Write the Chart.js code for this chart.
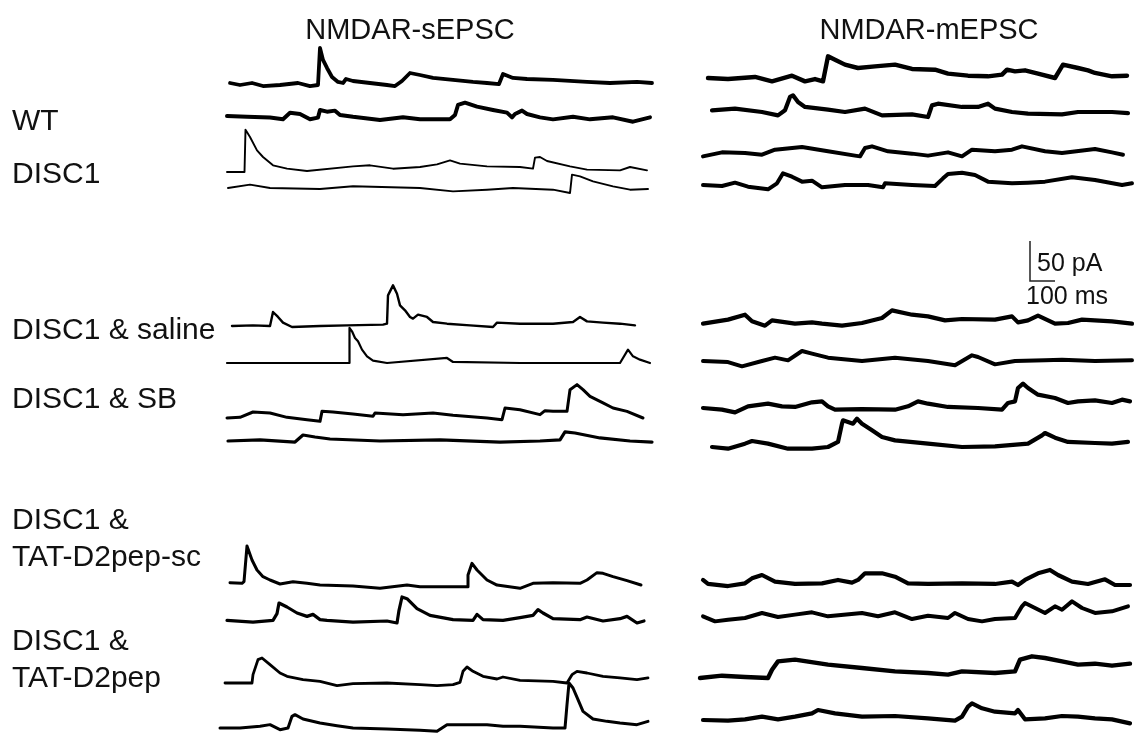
<!DOCTYPE html>
<html>
<head>
<meta charset="utf-8">
<script src="https://cdn.jsdelivr.net/npm/chart.js@4.4.0/dist/chart.umd.min.js"></script>
<style>
  html, body { margin: 0; padding: 0; background: #fff; }
  #wrap { position: relative; width: 1137px; height: 734px; overflow: hidden; }
  #traces { position: absolute; left: 0; top: 0; }
  .lbl { position: absolute; font-family: "Liberation Sans", Arial, sans-serif; font-size: 30px;
         color: #111; white-space: nowrap; line-height: 1; transform: translateY(-50%); }
  .ctr { transform: translate(-50%, -50%); }
  .titre { font-size: 29px; }
  .small { font-size: 25px; }
</style>
</head>
<body>
<div id="wrap">
  <canvas id="traces" width="1137" height="734"></canvas>
</div>
<script>
// titres, étiquettes et échelle
const columnTitles = ["NMDAR-sEPSC", "NMDAR-mEPSC"];
const groupLabels = [["WT"], ["DISC1"], ["DISC1 & saline"], ["DISC1 & SB"],
                     ["DISC1 &", "TAT-D2pep-sc"], ["DISC1 &", "TAT-D2pep"]];
const scaleBarPA = 50;
const scaleBarMS = 100;

// traces: [temps (ms), courant (pA, vers le haut)]
// NMDAR-sEPSC
const sWT1 = [[20,0],[60,-2.5],[108,0],[152,-3.8],[220,-2.5],[292,0],[340,-3.8],[372,-2.5],[380,43.8],[392,28.8],[408,18.8],[428,7.5],[452,1.3],[472,0],[484,5],[512,2.5],[580,0],[648,-2.5],[680,-3.8],[708,2.5],[740,12.5],[780,10],[832,6.3],[912,3.8],[992,1.3],[1048,0],[1096,-1.3],[1112,11.3],[1152,6.3],[1208,5],[1312,3.8],[1448,1.3],[1540,0],[1648,1.3],[1708,0]];
const sWT2 = [[8,0],[88,-1],[180,-2],[232,-4],[260,4],[300,2.5],[340,-4],[372,-2],[380,7.5],[408,5.4],[440,6.7],[460,1.3],[512,-1],[620,-5],[712,-1.7],[780,-4],[900,-4],[920,1.3],[932,13.8],[960,16.7],[1008,11.7],[1072,7.5],[1128,4.2],[1148,-1.7],[1160,2.5],[1188,6.7],[1208,2.5],[1260,-1.7],[1312,-4.2],[1392,-1],[1460,-4.2],[1552,-1.7],[1632,-7.1],[1700,-1.7]];
const sDISC1 = [[8,-1.3],[78,-1.3],[82,51.7],[100,42.5],[128,25.8],[152,17.5],[192,7.1],[248,2.9],[328,0],[512,5.8],[580,7.1],[672,2.9],[780,5],[848,8.3],[900,13.3],[940,9.2],[1048,5.8],[1180,5],[1232,2.9],[1240,16.7],[1260,17.5],[1288,12.5],[1380,5.8],[1448,1.7],[1580,0.8],[1620,5],[1688,0.8]];
const sDISC2 = [[12,0],[100,4.2],[180,0],[380,-1.3],[512,2.1],[780,0],[912,-4.2],[1048,-2.1],[1152,0],[1312,-2.1],[1380,-6.3],[1388,16.7],[1420,14.6],[1472,8.3],[1552,2.1],[1620,-2.1],[1692,-1.3]];
const sSal1 = [[28,0],[112,0.8],[180,0],[192,17.5],[212,11.3],[232,4.2],[268,-1.3],[380,0],[488,0.8],[632,1.7],[648,2.9],[652,38.3],[672,50.8],[688,40.4],[700,25.8],[720,19.6],[740,11.3],[752,9.2],[772,14.2],[808,11.3],[832,5],[888,2.9],[980,0.8],[1072,-1.3],[1088,4.2],[1180,2.9],[1312,2.9],[1392,5],[1420,11.3],[1448,5.8],[1512,4.2],[1580,2.9],[1640,0.8]];
const sSal2 = [[8,0],[300,0],[496,0],[498,43.8],[508,39.6],[520,31.3],[532,27.1],[548,16.7],[568,8.3],[592,2.9],[648,0],[888,6.3],[912,1.3],[1180,0],[1580,0],[1612,16.7],[1632,8.3],[1660,4.2],[1700,0]];
const sSB1 = [[8,0],[60,0.8],[112,7.5],[180,6.3],[248,0.8],[328,-2.1],[380,-4.2],[388,8.3],[432,7.5],[512,5],[592,2.1],[600,6.3],[712,4.2],[832,6.3],[912,3.3],[1048,0],[1108,-2.1],[1120,12.5],[1180,10.4],[1260,4.2],[1280,9.2],[1312,8.3],[1368,8.3],[1380,35.4],[1408,41.7],[1432,35.4],[1460,27.1],[1512,18.8],[1552,12.5],[1608,8.3],[1672,0]];
const sSB2 = [[12,0],[140,1.3],[280,-1.3],[312,7.5],[360,5],[420,2.5],[620,0],[860,1.3],[1100,-1.3],[1260,0],[1340,1.3],[1360,11.3],[1400,10],[1500,3.8],[1620,0],[1708,-1.3]];
const sSc1 = [[20,1.7],[68,0.8],[76,2.9],[88,47.5],[108,30],[128,17.5],[152,9.2],[180,5],[220,0],[272,2.9],[328,0.8],[380,-1.3],[512,-2.5],[620,-5.4],[728,-1.3],[780,-3.3],[912,-3.3],[968,-3.3],[972,11.3],[988,25.8],[1008,17.5],[1048,5],[1088,-1.3],[1180,-5.4],[1232,0.8],[1312,1.7],[1420,0.8],[1448,5],[1488,14.2],[1512,13.3],[1552,9.2],[1608,4.2],[1664,-1.3]];
const sSc2 = [[8,0.8],[112,-1.3],[192,0.8],[208,9.2],[216,22.5],[248,17.5],[288,10],[328,5.8],[352,8.3],[380,1.7],[408,0.8],[512,-1.3],[648,0],[688,-2.5],[696,13.3],[708,30],[728,27.9],[768,15.4],[820,7.1],[912,1.7],[992,0.8],[1008,8.3],[1032,1.7],[1112,0.8],[1180,4.2],[1232,7.1],[1252,14.2],[1272,10],[1312,2.9],[1420,1.7],[1448,5],[1512,0],[1580,2.9],[1608,5.8],[1648,-2.5],[1676,0]];
const sPep1 = [[0,0],[60,0],[108,0],[112,10.4],[132,29.2],[148,31.3],[180,22.9],[220,12.5],[248,8.3],[312,4.2],[380,2.1],[448,-3.3],[512,-0.8],[648,0],[780,-2.1],[848,-3.3],[912,-2.1],[940,0.8],[952,14.6],[968,20],[992,14.6],[1032,8.3],[1088,5],[1112,7.5],[1180,3.3],[1312,2.1],[1368,0],[1388,10.4],[1408,14.6],[1448,12.5],[1512,8.3],[1580,6.3],[1648,4.2],[1692,6.3]];
const sPep2 = [[-20,0],[60,0],[140,2.1],[180,4.2],[220,-2.1],[252,0],[268,14.6],[280,16.7],[312,11.3],[380,6.3],[448,2.9],[512,0],[648,-1.3],[780,-2.9],[848,-4.2],[888,4.2],[940,4.2],[1048,4.2],[1112,2.1],[1180,2.1],[1312,0],[1360,0],[1368,29.2],[1376,56.3],[1392,50],[1412,35.4],[1432,20.8],[1472,11.3],[1528,8.3],[1580,6.3],[1648,4.2],[1692,8.3]];

// NMDAR-mEPSC
const mWT1 = [[32,0],[112,-1.3],[220,1.3],[288,-4.2],[368,2.9],[420,-4.2],[460,-1.3],[492,-4.2],[512,27.1],[540,22.9],[580,16.7],[632,12.5],[700,14.6],[780,16.7],[848,11.3],[940,10.4],[992,5.4],[1072,2.9],[1152,2.1],[1208,4.2],[1228,10.4],[1260,8.3],[1300,9.6],[1352,5.4],[1420,0],[1440,10.4],[1452,16.7],[1512,12.5],[1552,9.6],[1580,6.3],[1648,2.1],[1708,2.9]];
const mWT2 = [[48,2.1],[140,4.2],[248,0],[312,-4.2],[340,2.1],[360,18.8],[372,20.8],[392,12.5],[420,6.3],[512,2.9],[580,0],[660,4.2],[728,-4.2],[848,-2.9],[912,-6.3],[928,8.3],[952,10.4],[1048,6.3],[1112,6.3],[1152,10.4],[1180,4.2],[1248,0],[1312,-2.1],[1448,-2.9],[1512,0],[1648,0],[1712,-1.3]];
const mDISC1 = [[12,-4.2],[88,0.8],[180,0],[248,-2.1],[300,4.2],[408,7.5],[512,2.1],[620,-3.3],[640,-4.2],[660,6.3],[688,8.3],[752,2.1],[848,-0.8],[912,-3.3],[992,0.8],[1048,-4.2],[1088,4.2],[1180,2.1],[1248,4.2],[1288,8.3],[1380,2.1],[1448,0],[1580,5],[1648,0.8],[1692,-2.1]];
const mDISC2 = [[12,0],[88,-1.3],[140,2.9],[192,-2.1],[272,-5.4],[308,2.1],[332,14.6],[368,10.4],[408,4.2],[448,5.4],[488,-2.9],[580,0],[672,0],[732,-2.9],[740,2.1],[848,0],[940,-1.3],[972,8.3],[992,13.8],[1048,15.4],[1100,12.5],[1152,4.2],[1248,2.1],[1312,2.9],[1380,4.2],[1488,9.6],[1580,6.3],[1688,0],[1728,2.1]];
const mSal1 = [[12,-0.8],[112,4.2],[180,10.4],[208,2.1],[260,-3.3],[288,3.3],[380,-0.8],[448,0.8],[488,-0.8],[568,-3.3],[648,0],[728,6.3],[768,15.8],[848,10.4],[912,8.3],[980,3.3],[1048,5],[1180,4.2],[1248,8.3],[1272,0.8],[1312,3.3],[1352,9.2],[1420,-0.8],[1472,0],[1528,4.2],[1648,2.1],[1728,-0.8]];
const mSal2 = [[12,0],[112,-1.3],[168,-6.7],[248,0],[300,4.2],[352,0.8],[408,12.5],[448,9.2],[512,4.2],[648,0],[780,4.2],[912,0],[1020,-5.4],[1088,7.1],[1112,5],[1180,-4.2],[1260,0],[1380,0.8],[1448,1.7],[1580,0],[1728,0.8]];
const mSB1 = [[12,0],[88,-2.1],[140,-5.4],[192,2.1],[272,5.4],[328,2.1],[380,1.3],[448,7.1],[488,8.3],[512,2.1],[540,-2.1],[648,-1.3],[780,-2.1],[832,2.1],[872,8.3],[912,5.4],[992,1.3],[1112,0],[1208,-2.1],[1232,6.3],[1260,8.3],[1272,25],[1292,30.4],[1312,25],[1352,16.7],[1420,12.5],[1472,6.3],[1512,8.3],[1580,9.6],[1648,6.3],[1688,10.4],[1720,8.3]];
const mSB2 = [[48,0],[112,-2.1],[180,4.2],[208,7.5],[272,4.2],[352,-2.1],[448,-2.1],[512,0],[552,6.3],[568,29.2],[572,33.3],[592,31.3],[612,29.2],[628,35.4],[648,29.2],[688,20.8],[728,12.5],[780,8.3],[912,4.2],[1048,0],[1180,0.8],[1312,4.2],[1368,14.6],[1380,17.5],[1420,11.7],[1472,6.3],[1580,5],[1648,4.2],[1712,6.3]];
const mSc1 = [[12,6.3],[32,1.3],[112,-1.3],[180,2.1],[208,8.3],[248,12.5],[300,4.2],[380,1.3],[488,2.1],[552,6.3],[608,2.9],[632,6.3],[660,14.6],[728,14.6],[780,10.4],[832,2.1],[912,1.3],[1048,2.1],[1180,1.3],[1248,4.2],[1272,0],[1300,6.3],[1352,14.6],[1400,18.8],[1432,12.5],[1488,4.2],[1552,1.3],[1620,7.1],[1660,0],[1720,0]];
const mSc2 = [[12,2.1],[60,-4.2],[112,-2.1],[180,0],[248,6.3],[312,1.3],[380,4.2],[448,7.1],[512,2.1],[648,6.3],[712,2.1],[780,7.1],[848,-1.3],[912,2.9],[992,0],[1020,6.3],[1072,-1.3],[1128,-4.2],[1180,-1.3],[1260,0],[1288,14.6],[1300,18.8],[1340,12.5],[1380,6.3],[1420,14.6],[1448,10.4],[1488,20.8],[1528,12.5],[1580,6.3],[1648,8.3],[1712,14.6]];
const mPep1 = [[0,0],[88,2.9],[180,1.3],[272,0],[288,10.4],[312,20.8],[380,22.9],[512,16.7],[648,12.5],[780,8.3],[912,6.3],[992,4.2],[1048,8.3],[1180,6.3],[1260,8.3],[1280,22.9],[1328,27.1],[1380,25],[1448,20.8],[1512,16.7],[1580,17.9],[1648,15.4],[1720,17.9]];
const mPep2 = [[12,0],[112,-0.8],[180,0.8],[248,4.2],[312,0.8],[380,4.2],[448,8.3],[472,12.5],[540,8.3],[648,4.2],[780,5],[912,2.1],[1020,-0.8],[1048,4.2],[1072,16.7],[1088,20.8],[1128,14.6],[1180,10.4],[1260,8.3],[1272,12.5],[1300,0.8],[1380,2.1],[1448,5],[1512,4.2],[1580,2.1],[1648,0.8],[1720,-4.2]];

// mise en page (pixels)
const W = 1137, H = 734;
const PX_PER_MS = 0.25;   // 100 ms = 25 px
const PX_PER_PA = 0.8;    // 50 pA = 40 px
const colStartPx = [225, 700];
const titleX = [410, 929];
const labelY = [[120], [173], [329], [398], [519, 556], [640, 677]];

// [données, colonne, ligne de base en px, épaisseur]
const traces = [
    [sWT1, 0, 83, 3.8], [sWT2, 0, 116, 4], [sDISC1, 0, 171, 1.9], [sDISC2, 0, 188, 1.9],
    [sSal1, 0, 326, 2.4], [sSal2, 0, 363, 2.2], [sSB1, 0, 418, 3], [sSB2, 0, 441, 3.2],
    [sSc1, 0, 584, 3], [sSc2, 0, 621, 3.2], [sPep1, 0, 683, 2.8], [sPep2, 0, 728, 3]
].concat([
    [mWT1, 1, 78, 4.4], [mWT2, 1, 112, 4.2], [mDISC1, 1, 153, 4], [mDISC2, 1, 185, 4],
    [mSal1, 1, 323, 4.2], [mSal2, 1, 361, 4], [mSB1, 1, 408, 4.2], [mSB2, 1, 447, 4.2],
    [mSc1, 1, 585, 4.2], [mSc2, 1, 618, 4], [mPep1, 1, 678, 4.4], [mPep2, 1, 720, 4.2]
]);
const scaleBarCornerPx = { x: 1030, y: 281 };

function versPoints(arr, col, basePx) {
    const x0 = colStartPx[col] / PX_PER_MS;
    const y0 = -basePx / PX_PER_PA;
    return arr.map(p => ({ x: x0 + p[0], y: y0 + p[1] }));
}

const datasets = traces.map(t => ({
    data: versPoints(t[0], t[1], t[2]),
    borderColor: '#000',
    borderWidth: t[3],
    borderJoinStyle: 'round',
    borderCapStyle: 'round',
    pointRadius: 0,
    showLine: true,
    tension: 0
}));

// barre d'échelle
const cx = scaleBarCornerPx.x / PX_PER_MS;
const cy = -scaleBarCornerPx.y / PX_PER_PA;
datasets.push({
    data: [{ x: cx, y: cy + scaleBarPA }, { x: cx, y: cy }, { x: cx + scaleBarMS, y: cy }],
    borderColor: '#222',
    borderWidth: 1.5,
    pointRadius: 0,
    showLine: true,
    tension: 0
});

new Chart(document.getElementById('traces'), {
    type: 'scatter',
    data: { datasets: datasets },
    options: {
        responsive: false,
        animation: false,
        layout: { padding: 0 },
        plugins: { legend: { display: false }, tooltip: { enabled: false } },
        scales: {
            x: { type: 'linear', min: 0, max: W / PX_PER_MS, display: false },
            y: { type: 'linear', min: -H / PX_PER_PA, max: 0, display: false }
        }
    }
});

// textes
const wrap = document.getElementById('wrap');
function texte(str, x, y, cls) {
    const d = document.createElement('div');
    d.className = 'lbl ' + (cls || '');
    d.textContent = str;
    d.style.left = x + 'px';
    d.style.top = y + 'px';
    wrap.appendChild(d);
}
columnTitles.forEach((t, i) => texte(t, titleX[i], 29, 'ctr titre'));
groupLabels.forEach((lignes, i) => lignes.forEach((l, j) => texte(l, 12, labelY[i][j])));
texte(scaleBarPA + ' pA', 1037, 262, 'small');
texte(scaleBarMS + ' ms', 1067, 295, 'ctr small');
</script>
</body>
</html>
